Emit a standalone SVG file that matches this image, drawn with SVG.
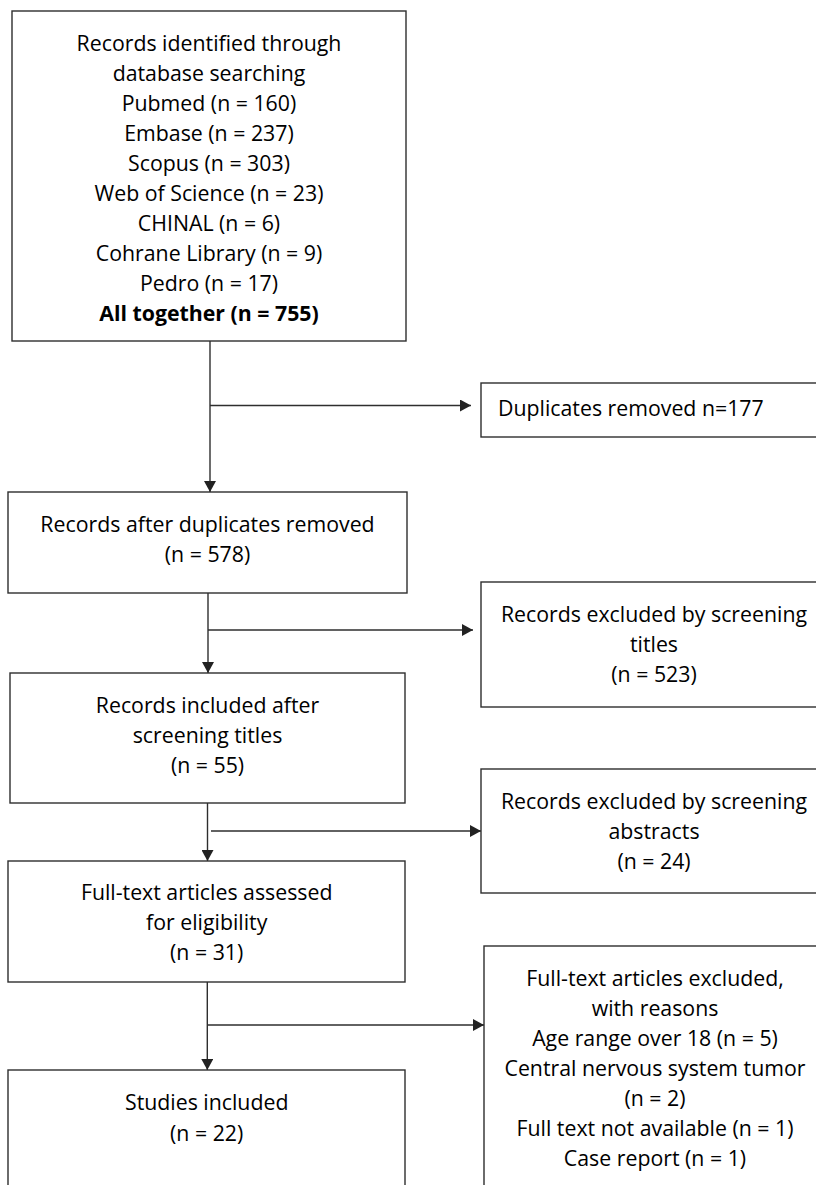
<svg xmlns="http://www.w3.org/2000/svg" width="816" height="1185" viewBox="0 0 816 1185">
<style>
  .box { fill: #ffffff; stroke: #2e2e2e; stroke-width: 1.4; }
  .t { font-family: "Open Sans", "Liberation Sans", sans-serif; font-size: 21.3px; fill: #000000; text-anchor: middle; }
  .b { font-weight: bold; }
  .l { text-anchor: start; }
  .conn { fill: none; stroke: #2e2e2e; stroke-width: 1.4; }
</style>
<defs>
  <marker id="arr" markerUnits="userSpaceOnUse" markerWidth="12" markerHeight="12" refX="11" refY="6" orient="auto">
    <path d="M0,0 L11,6 L0,12 Z" fill="#222222"/>
  </marker>
</defs>
<rect width="816" height="1185" fill="#ffffff"/>

<g id="connectors">
  <line class="conn" x1="210" y1="341" x2="210" y2="492" marker-end="url(#arr)"/>
  <line class="conn" x1="210" y1="405.5" x2="471" y2="405.5" marker-end="url(#arr)"/>
  <line class="conn" x1="208" y1="593" x2="208" y2="673" marker-end="url(#arr)"/>
  <line class="conn" x1="208" y1="630" x2="473" y2="630" marker-end="url(#arr)"/>
  <line class="conn" x1="207.5" y1="803" x2="207.5" y2="861" marker-end="url(#arr)"/>
  <line class="conn" x1="211" y1="831" x2="481" y2="831" marker-end="url(#arr)"/>
  <line class="conn" x1="207.3" y1="982" x2="207.3" y2="1070" marker-end="url(#arr)"/>
  <line class="conn" x1="207.3" y1="1025" x2="484" y2="1025" marker-end="url(#arr)"/>
</g>

<g id="node-identified">
  <rect class="box" x="12" y="11" width="394" height="330"/>
  <text class="t" x="209" y="51">Records identified through</text>
  <text class="t" x="209" y="81">database searching</text>
  <text class="t" x="209" y="111">Pubmed (n = 160)</text>
  <text class="t" x="209" y="141">Embase (n = 237)</text>
  <text class="t" x="209" y="171">Scopus (n = 303)</text>
  <text class="t" x="209" y="201">Web of Science (n = 23)</text>
  <text class="t" x="209" y="231">CHINAL (n = 6)</text>
  <text class="t" x="209" y="261">Cohrane Library (n = 9)</text>
  <text class="t" x="209" y="291">Pedro (n = 17)</text>
  <text class="t b" x="209" y="321">All together (n = 755)</text>
</g>

<g id="node-duplicates">
  <rect class="box" x="481" y="383" width="346" height="54"/>
  <text class="t l" x="498" y="416">Duplicates removed n=177</text>
</g>

<g id="node-after-duplicates">
  <rect class="box" x="8" y="492" width="399" height="101"/>
  <text class="t" x="207.5" y="532">Records after duplicates removed</text>
  <text class="t" x="207.5" y="562">(n = 578)</text>
</g>

<g id="node-excluded-titles">
  <rect class="box" x="481" y="582" width="346" height="125"/>
  <text class="t" x="654" y="622">Records excluded by screening</text>
  <text class="t" x="654" y="652">titles</text>
  <text class="t" x="654" y="682">(n = 523)</text>
</g>

<g id="node-included-titles">
  <rect class="box" x="10" y="673" width="395" height="130"/>
  <text class="t" x="207.5" y="713">Records included after</text>
  <text class="t" x="207.5" y="743">screening titles</text>
  <text class="t" x="207.5" y="773">(n = 55)</text>
</g>

<g id="node-excluded-abstracts">
  <rect class="box" x="481" y="769" width="346" height="124"/>
  <text class="t" x="654" y="809">Records excluded by screening</text>
  <text class="t" x="654" y="839">abstracts</text>
  <text class="t" x="654" y="869">(n = 24)</text>
</g>

<g id="node-fulltext">
  <rect class="box" x="8" y="861" width="397" height="121"/>
  <text class="t" x="206.7" y="900">Full-text articles assessed</text>
  <text class="t" x="206.7" y="930">for eligibility</text>
  <text class="t" x="206.7" y="960">(n = 31)</text>
</g>

<g id="node-fulltext-excluded">
  <rect class="box" x="484" y="946" width="343" height="260"/>
  <text class="t" x="655" y="986">Full-text articles excluded,</text>
  <text class="t" x="655" y="1016">with reasons</text>
  <text class="t" x="655" y="1046">Age range over 18 (n = 5)</text>
  <text class="t" x="655" y="1076">Central nervous system tumor</text>
  <text class="t" x="655" y="1106">(n = 2)</text>
  <text class="t" x="655" y="1136">Full text not available (n = 1)</text>
  <text class="t" x="655" y="1166">Case report (n = 1)</text>
</g>

<g id="node-studies">
  <rect class="box" x="8" y="1070" width="397" height="140"/>
  <text class="t" x="206.7" y="1110">Studies included</text>
  <text class="t" x="206.7" y="1141">(n = 22)</text>
</g>
</svg>
